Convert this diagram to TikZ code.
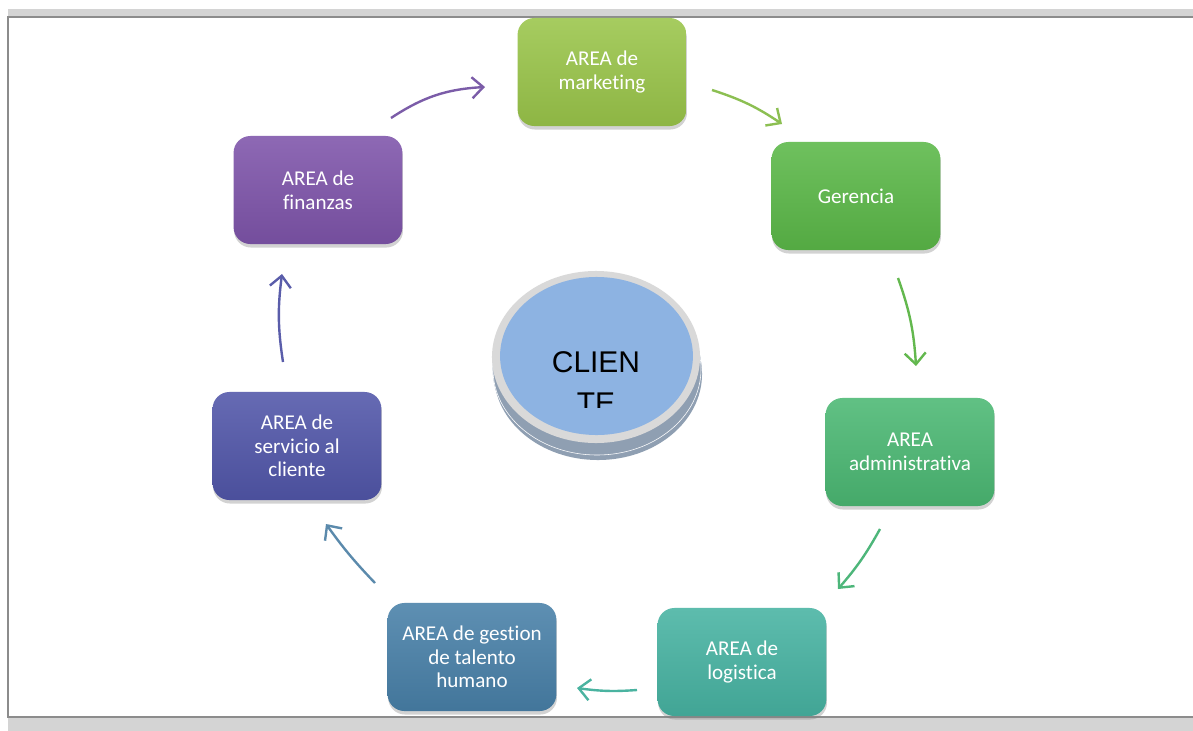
\documentclass[tikz,border=0pt]{standalone}
\usepackage{xcolor}
\usepackage{fontspec}
\setmainfont[Ligatures={NoCommon}]{Carlito}
\newfontfamily\clientfont{Liberation Sans}
\usepackage{tikz}
\usetikzlibrary{arrows.meta,shadows}
\definecolor{frameBand}{HTML}{D4D4D4}
\definecolor{frameLine}{HTML}{8C8C8C}
\definecolor{areaMkt}{HTML}{9AC54A}
\definecolor{areaGer}{HTML}{5BB848}
\definecolor{areaAdm}{HTML}{4BB873}
\definecolor{areaLog}{HTML}{47B3A2}
\definecolor{areaGes}{HTML}{4880A8}
\definecolor{areaSer}{HTML}{5156A9}
\definecolor{areaFin}{HTML}{7E54AA}
\definecolor{flowFin}{HTML}{7B5CA8}
\definecolor{flowMkt}{HTML}{8CBF52}
\definecolor{flowGer}{HTML}{63B84E}
\definecolor{flowAdm}{HTML}{4DB67A}
\definecolor{flowLog}{HTML}{4AB3A0}
\definecolor{flowGes}{HTML}{5B8AAC}
\definecolor{flowSer}{HTML}{5A5DAA}
\definecolor{clientSide}{HTML}{8F9FB2}
\definecolor{clientRing}{HTML}{D9D9D9}
\definecolor{clientFace}{HTML}{8DB3E2}
\tikzset{
  area/.style={rounded corners=0.42cm, minimum width=4.22cm, minimum height=2.7cm,
    align=center, text=white, font=\fontsize{15}{16.8}\selectfont,
    top color=#1!88!white, bottom color=#1!92!black,
    drop shadow={shadow xshift=0.4pt, shadow yshift=-2.5pt, opacity=0.35}},
  flow/.style={-{Straight Barb[length=8pt,width=15pt]}, line width=1.7pt, #1},
  band/.style={fill=frameBand},
  edge/.style={frameLine, line width=1.4pt},
}

\begin{document}
\begin{tikzpicture}[x=0.025cm, y=0.025cm]
  \useasboundingbox (0,0) rectangle (1193,-731);
  \fill[white] (0,0) rectangle (1193,-731);
  % page frame
  \fill[band] (8,-9) rectangle (1193,-17);
  \fill[band] (8,-717) rectangle (1193,-731);
  \draw[edge] (1193,-17) -- (8,-17) -- (8,-717) -- (1193,-717);
  % client disk in the middle
  \fill[clientSide] (598,-374) ellipse [x radius=2.6cm, y radius=2.15cm];
  \draw[clientSide, fill=clientSide] (597,-369) ellipse [x radius=2.6cm, y radius=2.15cm];
  \draw[white, line width=0.4pt] (597,-369) ellipse [x radius=2.6cm, y radius=2.15cm];
  \fill[clientRing] (596,-357) ellipse [x radius=2.6cm, y radius=2.15cm];
  \fill[clientFace] (596.5,-356) ellipse [x radius=2.41cm, y radius=1.975cm];
  \begin{scope}
    \clip (480,-270) rectangle (720,-407);
    \node[anchor=north, inner sep=0pt, align=center,
      font=\clientfont\fontsize{21.3}{29}\selectfont] (client) at (596,-351.5) {CLIEN\\TE};
  \end{scope}
  % the seven areas
  \node[area=areaMkt] (mkt) at (602,-72)  {AREA de\\marketing};
  \node[area=areaGer] (ger) at (856,-196) {Gerencia};
  \node[area=areaAdm] (adm) at (910,-452) {AREA\\administrativa};
  \node[area=areaLog] (log) at (742,-662) {AREA de\\logistica};
  \node[area=areaGes] (ges) at (472,-657) {AREA de gestion\\de talento\\humano};
  \node[area=areaSer] (ser) at (297,-446) {AREA de\\servicio al\\cliente};
  \node[area=areaFin] (fin) at (318,-190) {AREA de\\finanzas};
  % arrows between them
  \coordinate (finOut) at (391,-118);  \coordinate (mktIn) at (485,-87);
  \coordinate (mktOut) at (712,-90);   \coordinate (gerIn) at (782,-124);
  \coordinate (gerOut) at (898,-278);  \coordinate (admIn) at (916,-366);
  \coordinate (admOut) at (880,-529);  \coordinate (logIn) at (838,-589);
  \coordinate (logOut) at (637,-690);  \coordinate (gesIn) at (577,-688);
  \coordinate (gesOut) at (375,-583);  \coordinate (serIn) at (326,-524);
  \coordinate (serOut) at (283,-362);  \coordinate (finIn) at (282,-274);
  \draw[flow=flowFin] (finOut) to[bend left=15] (mktIn);
  \draw[flow=flowMkt] (mktOut) to[bend left=8] (gerIn);
  \draw[flow=flowGer] (gerOut) to[bend left=8] (admIn);
  \draw[flow=flowAdm] (admOut) to[bend left=6] (logIn);
  \draw[flow=flowLog] (logOut) to[bend left=6] (gesIn);
  \draw[flow=flowGes] (gesOut) to[bend left=4] (serIn);
  \draw[flow=flowSer] (serOut) to[bend left=8] (finIn);
\end{tikzpicture}
\end{document}
